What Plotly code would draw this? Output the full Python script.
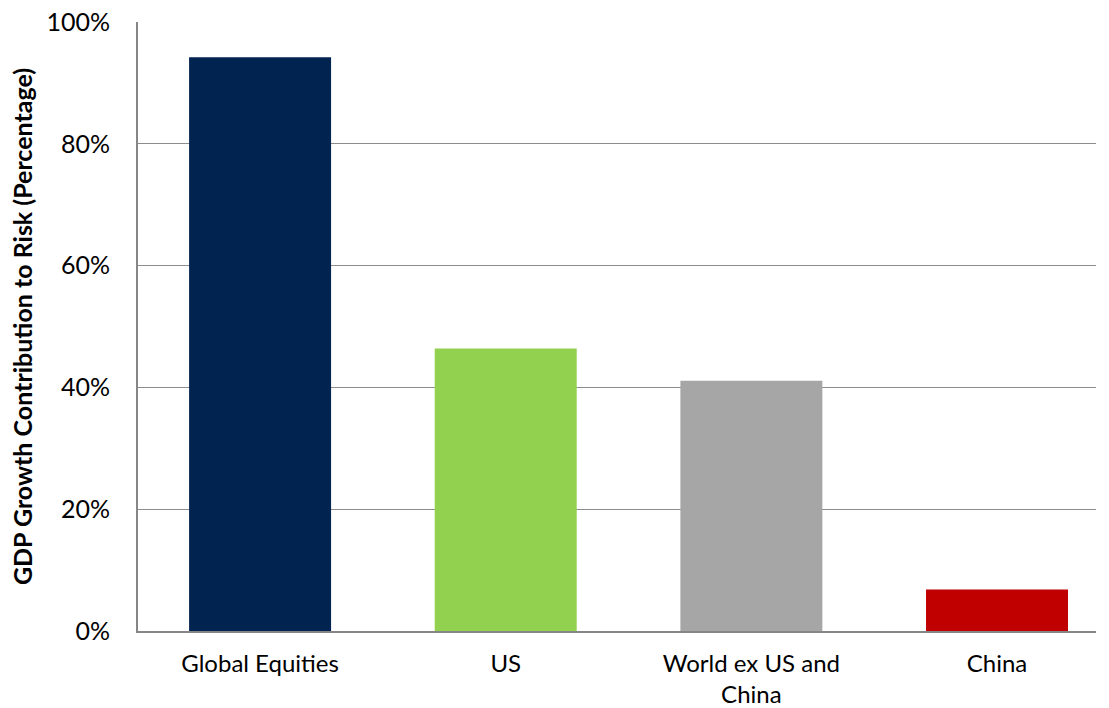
import plotly.graph_objects as go

categories = ["Global Equities", "US", "World ex US and<br>China", "China"]
values = [94.2, 46.4, 41.1, 6.8]
colors = ["#002350", "#92D050", "#A6A6A6", "#C00000"]
tick_vals = [0, 20, 40, 60, 80, 100]
tick_text = ["0%", "20%", "40%", "60%", "80%", "100%"]

fig = go.Figure(
    go.Bar(
        x=categories,
        y=values,
        marker=dict(color=colors, line=dict(width=0)),
        width=0.578,
    )
)

font_family = "Lato, 'Open Sans', sans-serif"

fig.update_layout(
    width=1109,
    height=708,
    margin=dict(l=138, r=13, t=22, b=77),
    paper_bgcolor="white",
    plot_bgcolor="white",
    showlegend=False,
    font=dict(family=font_family, color="#000000", size=24),
)

fig.update_xaxes(
    automargin=False,
    showline=True,
    linecolor="#868686",
    linewidth=2,
    showgrid=False,
    ticks="",
    tickfont=dict(size=24),
    ticklabelstandoff=10,
    range=[-0.497, 3.403],
)

fig.update_yaxes(
    automargin=False,
    range=[0, 100],
    tickvals=tick_vals,
    ticktext=tick_text,
    showgrid=True,
    gridcolor="#8C8C8C",
    gridwidth=1.3,
    showline=True,
    linecolor="#868686",
    linewidth=2,
    ticks="",
    ticklen=0,
    tickfont=dict(size=25),
    ticklabelstandoff=21,
    zeroline=False,
    title=dict(
        text="<b>GDP Growth Contribution to Risk (Percentage)</b>",
        font=dict(size=25),
        standoff=7,
    ),
)

fig.write_html("out.html")
